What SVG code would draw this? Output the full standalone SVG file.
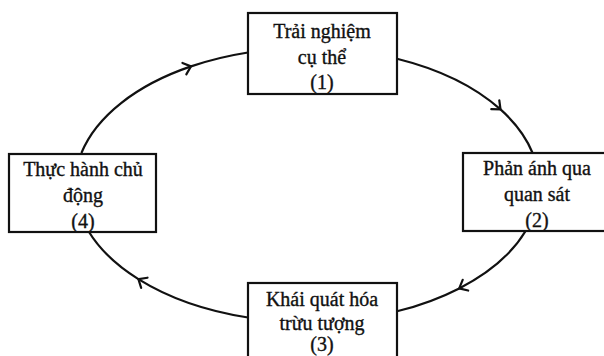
<svg xmlns="http://www.w3.org/2000/svg" width="604" height="356" viewBox="0 0 604 356">
<defs>
<style>
.box{fill:#fff;stroke:#111;stroke-width:2.2}
.lbl{font-family:"Liberation Serif","Times New Roman",serif;font-size:20px;fill:#111;stroke:#111;stroke-width:0.35;text-anchor:middle}
.con{fill:none;stroke:#111;stroke-width:2.2;marker-mid:url(#chev)}
</style>
<marker id="chev" markerUnits="userSpaceOnUse" viewBox="-10 -8 14 16" markerWidth="14" markerHeight="16" refX="0" refY="0" orient="auto">
<path d="M-7,-6 L0,0 L-7,6" fill="none" stroke="#111" stroke-width="2.2" stroke-linecap="round" stroke-linejoin="miter"/>
</marker>
</defs>
<rect width="604" height="356" fill="#fff"/>
<g id="connectors">
<path class="con" d="M81.4,153 A232 137 0 0 1 191,66.4 A232 137 0 0 1 248,52.5"/>
<path class="con" d="M397,58.7 A232 137 0 0 1 500.5,109.4 A232 137 0 0 1 532.6,153"/>
<path class="con" d="M525.6,231 A232 137 0 0 1 459.2,288.4 A232 137 0 0 1 397,311.3"/>
<path class="con" d="M248,317.5 A232 137 0 0 1 138.4,279.1 A232 137 0 0 1 88.4,231"/>
</g>
<g id="node1">
<rect class="box" x="248" y="13" width="149" height="81"/>
<text class="lbl" x="322" y="38">Trải nghiệm</text>
<text class="lbl" x="322" y="64">cụ thể</text>
<text class="lbl" x="322" y="89">(1)</text>
</g>
<g id="node2">
<rect class="box" x="463" y="153" width="150" height="78"/>
<text class="lbl" x="537" y="175">Phản ánh qua</text>
<text class="lbl" x="537" y="201">quan sát</text>
<text class="lbl" x="537" y="227">(2)</text>
</g>
<g id="node3">
<rect class="box" x="248" y="283" width="149" height="90"/>
<text class="lbl" x="322" y="306">Khái quát hóa</text>
<text class="lbl" x="322" y="330">trừu tượng</text>
<text class="lbl" x="322" y="351">(3)</text>
</g>
<g id="node4">
<rect class="box" x="9" y="154" width="147" height="78"/>
<text class="lbl" x="83" y="176">Thực hành chủ</text>
<text class="lbl" x="83" y="202">động</text>
<text class="lbl" x="83" y="228">(4)</text>
</g>
</svg>
